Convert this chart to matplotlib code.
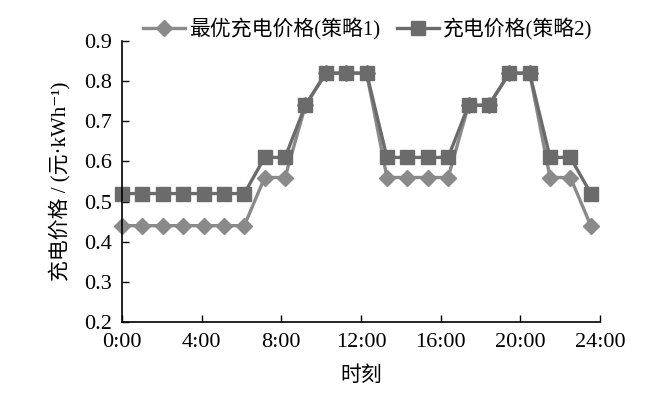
import numpy as np
import matplotlib
matplotlib.use('Agg')
import matplotlib.pyplot as plt

plt.rcParams['font.family'] = ['Liberation Serif', 'Noto Sans CJK SC', 'DejaVu Serif']

# 24 hourly points
price_s1 = [0.44, 0.44, 0.44, 0.44, 0.44, 0.44, 0.44, 0.56, 0.56, 0.74, 0.82, 0.82,
            0.82, 0.56, 0.56, 0.56, 0.56, 0.74, 0.74, 0.82, 0.82, 0.56, 0.56, 0.44]
price_s2 = [0.52, 0.52, 0.52, 0.52, 0.52, 0.52, 0.52, 0.61, 0.61, 0.74, 0.82, 0.82,
            0.82, 0.61, 0.61, 0.61, 0.61, 0.74, 0.74, 0.82, 0.82, 0.61, 0.61, 0.52]
tick_labels = ['0:00', '4:00', '8:00', '12:00', '16:00', '20:00', '24:00']
yticks = [0.2, 0.3, 0.4, 0.5, 0.6, 0.7, 0.8, 0.9]

x = np.arange(len(price_s1))
xmax = 23.45

fig = plt.figure(figsize=(6.64, 3.94), dpi=100)
ax = fig.add_axes([0.1837, 0.1827, 0.7199, 0.7132])

ax.plot(x, price_s1, color='#8a8a8a', lw=2.4, marker='D', ms=8,
        label='最优充电价格(策略1)', clip_on=False)
ax.plot(x, price_s2, color='#6b6b6b', lw=2.4, marker='s', ms=10,
        label='充电价格(策略2)', clip_on=False)

ax.set_xlim(0, xmax)
ax.set_ylim(0.2, 0.9)
ax.set_xticks(np.linspace(0, xmax, len(tick_labels)))
ax.set_xticklabels(tick_labels)
ax.set_yticks(yticks)
ax.set_yticklabels(['%.1f' % v for v in yticks])
ax.tick_params(direction='in', length=5, width=1, labelsize=16)
ax.tick_params(axis='x', pad=8)
ax.tick_params(axis='y', pad=7)
for s in ['top', 'right']:
    ax.spines[s].set_visible(False)
for s in ['left', 'bottom']:
    ax.spines[s].set_linewidth(1.2)

ax.set_xlabel('时刻', fontsize=15, labelpad=10)
ax.set_ylabel('充电价格 / (元·kWh⁻¹)', fontsize=15, labelpad=10)

fig.legend(loc='center', bbox_to_anchor=(0.554, 0.926), ncol=2, frameon=False,
           fontsize=15, handlelength=2.0, handletextpad=0.2, columnspacing=0.8)

fig.savefig('out.png', dpi=100)
